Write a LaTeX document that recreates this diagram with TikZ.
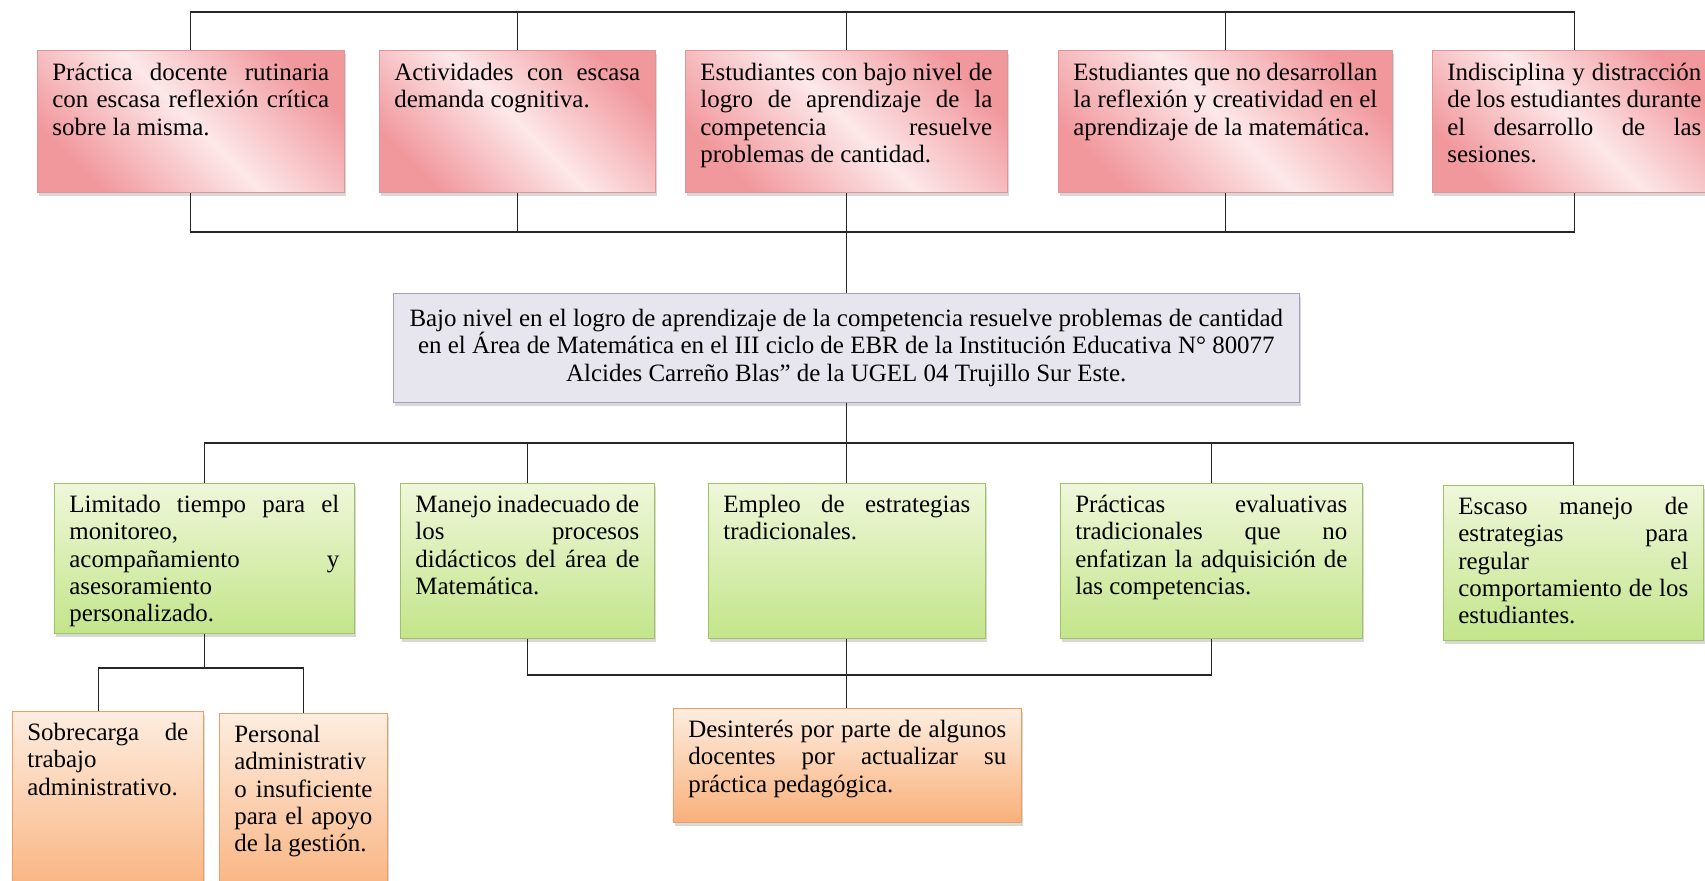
\documentclass[tikz,border=0pt]{standalone}
\usepackage{fontspec}
\setmainfont{Liberation Serif}
\usetikzlibrary{shadows}

\definecolor{rosaosc}{RGB}{241,152,157}
\definecolor{rosaclr}{RGB}{253,232,233}
\definecolor{rosaborde}{RGB}{220,150,152}
\definecolor{verdeclr}{RGB}{239,247,218}
\definecolor{verdeosc}{RGB}{195,229,138}
\definecolor{verdeborde}{RGB}{160,194,100}
\definecolor{naranjaclr}{RGB}{253,237,224}
\definecolor{naranjaosc}{RGB}{249,176,122}
\definecolor{naranjaborde}{RGB}{232,160,105}
\definecolor{grisfondo}{RGB}{231,229,237}
\definecolor{grisborde}{RGB}{165,160,192}

\hyphenpenalty=10000
\tolerance=10000

\begin{document}
\begin{tikzpicture}[x=0.02cm, y=-0.02cm,
    linea/.style={draw=black!85, line width=0.7pt},
    caja/.style={anchor=north west, inner xsep=0.3cm, inner ysep=0pt, align=justify,
        font=\fontsize{14.2}{15.6}\selectfont,
        drop shadow={opacity=0.3, shadow xshift=1pt, shadow yshift=-2pt}},
    efecto/.style={caja, draw=rosaborde, top color=rosaosc, bottom color=rosaosc,
        middle color=rosaclr, shading angle=-45, text height=0.6cm, text depth=2.24cm},
    causa/.style={caja, draw=verdeborde, top color=verdeclr, bottom color=verdeosc,
        text height=0.58cm, text depth=2.52cm},
    raiz/.style={caja, draw=naranjaborde, top color=naranjaclr, bottom color=naranjaosc,
        text height=0.58cm},
    problema/.style={anchor=north west, draw=grisborde, fill=grisfondo, align=center,
        minimum width=18.12cm, minimum height=2.18cm, inner sep=0pt,
        font=\fontsize{14.2}{15.6}\selectfont,
        drop shadow={opacity=0.3, shadow xshift=1pt, shadow yshift=-2pt}}]

    \useasboundingbox (0,0) rectangle (1705,881);
    \fill[white] (0,0) rectangle (1705,881);

    % efectos
    \node[efecto, text width=5.54cm] (ef1) at (37,50)
        {Práctica docente rutinaria\linebreak con escasa reflexión crítica\linebreak sobre la misma.};
    \node[efecto, text width=4.92cm] (ef2) at (379,50)
        {Actividades con escasa\linebreak demanda cognitiva.};
    \node[efecto, text width=5.84cm] (ef3) at (685,50)
        {Estudiantes con bajo nivel de\linebreak logro de aprendizaje de la\linebreak
         competencia resuelve\linebreak problemas de cantidad.};
    \node[efecto, text width=6.08cm] (ef4) at (1058,50)
        {Estudiantes que no desarrollan\linebreak la reflexión y creatividad en el\linebreak
         aprendizaje de la matemática.};
    \node[efecto, text width=5.08cm] (ef5) at (1432,50)
        {Indisciplina y distracción\linebreak de los estudiantes durante\linebreak
         el desarrollo de las\linebreak sesiones.};

    % problema central
    \node[problema] (prob) at (393,293)
        {Bajo nivel en el logro de aprendizaje de la competencia resuelve problemas de cantidad\\
         en el Área de Matemática en el III ciclo de EBR de la Institución Educativa N° 80077\\
         Alcides Carreño Blas” de la UGEL 04 Trujillo Sur Este.};

    % causas
    \node[causa, text width=5.40cm, text depth=2.42cm] (ca1) at (54,483)
        {Limitado tiempo para el\linebreak monitoreo,\newline acompañamiento y\linebreak
         asesoramiento\newline personalizado.};
    \node[causa, text width=4.48cm] (ca2) at (400,483)
        {Manejo inadecuado de\linebreak los procesos\linebreak didácticos del área de\linebreak Matemática.};
    \node[causa, text width=4.94cm] (ca3) at (708,483)
        {Empleo de estrategias\linebreak tradicionales.};
    \node[causa, text width=5.44cm] (ca4) at (1060,483)
        {Prácticas evaluativas\linebreak tradicionales que no\linebreak
         enfatizan la adquisición de\linebreak las competencias.};
    \node[causa, text width=4.60cm] (ca5) at (1443,485)
        {Escaso manejo de\linebreak estrategias para\linebreak regular el\linebreak
         comportamiento de los\linebreak estudiantes.};

    % causas raiz
    \node[raiz, text width=3.22cm, text depth=3.22cm] (ra1) at (12,711)
        {Sobrecarga de\linebreak trabajo\newline administrativo.};
    \node[raiz, text width=2.76cm, text depth=3.22cm] (ra2) at (219,713)
        {Personal\newline administrativ\newline o insuficiente\linebreak para el apoyo\linebreak de la gestión.};
    \node[raiz, text width=6.36cm, text depth=1.70cm] (ra3) at (673,708)
        {Desinterés por parte de algunos\linebreak docentes por actualizar su\linebreak
         práctica pedagógica.};

    % conectores superiores
    \coordinate (tope) at (0,12);
    \coordinate (base) at (0,232);
    \draw[linea] (ef1.north) |- (tope -| ef5.north) -- (ef5.north);
    \foreach \n in {ef2,ef3,ef4}
        \draw[linea] (\n.north) -- (\n.north |- tope);
    \draw[linea] (ef1.south) |- (base -| ef5.south) -- (ef5.south);
    \foreach \n in {ef2,ef4}
        \draw[linea] (\n.south) -- (\n.south |- base);
    \draw[linea] (ef3.south) -- (ef3.south |- prob.north);

    % conectores inferiores
    \coordinate (medio) at (0,443);
    \draw[linea] (prob.south) -- (prob.south |- medio);
    \draw[linea] (ca1.north) |- (medio -| ca5.north) -- (ca5.north);
    \foreach \n in {ca2,ca3,ca4}
        \draw[linea] (\n.north) -- (\n.north |- medio);

    \coordinate (sub) at (0,668);
    \draw[linea] (ca1.south) -- (ca1.south |- sub);
    \draw[linea] ([xshift=-0.18cm]ra1.north) |- (sub -| ra2.north) -- (ra2.north);

    \coordinate (sub2) at (0,675);
    \draw[linea] (ca2.south) |- (sub2 -| ca4.south) -- (ca4.south);
    \draw[linea] (ca3.south) -- (ca3.south |- ra3.north);
\end{tikzpicture}
\end{document}
